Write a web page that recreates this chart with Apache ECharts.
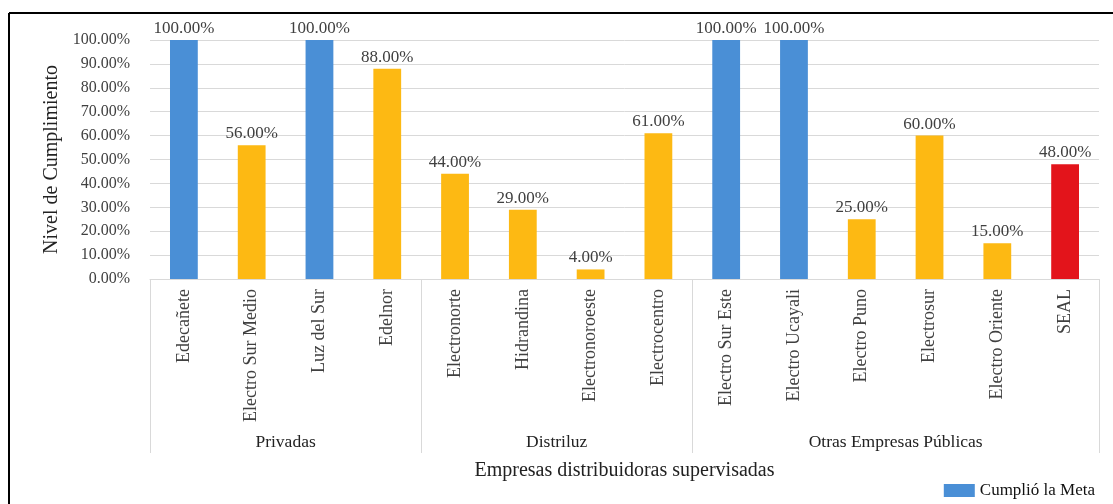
<!DOCTYPE html>
<html>
<head>
<meta charset="utf-8">
<script src="https://cdn.jsdelivr.net/npm/echarts@6/dist/echarts.min.js"></script>
<style>
html,body{margin:0;padding:0;background:#fff;}
#chart{width:1113px;height:504px;}
</style>
</head>
<body>
<div id="chart"></div>
<script>
const categories = ['Edecañete','Electro Sur Medio','Luz del Sur','Edelnor',
  'Electronorte','Hidrandina','Electronoroeste','Electrocentro',
  'Electro Sur Este','Electro Ucayali','Electro Puno','Electrosur','Electro Oriente','SEAL'];
const values = [100,56,100,88,44,29,4,61,100,100,25,60,15,48];
const status = ['met','unmet','met','unmet','unmet','unmet','unmet','unmet','met','met','unmet','unmet','unmet','other'];
const groups = ['Privadas','Distriluz','Otras Empresas Públicas'];
const groupSizes = [4,4,6];
const yTicks = [0,10,20,30,40,50,60,70,80,90,100];
const legendName = 'Cumplió la Meta';

const colorMap = {met:'#4A8FD6', unmet:'#FDB913', other:'#E3141B'};
const boundaries = [0];
groupSizes.forEach(s => boundaries.push(boundaries[boundaries.length-1]+s));
const groupCenters = groups.map((g,i) => (boundaries[i]+boundaries[i+1])/2);

const FONT = 'Liberation Serif';
const chart = echarts.init(document.getElementById('chart'));
chart.setOption({
  backgroundColor:'#fff',
  animation:false,
  textStyle:{fontFamily:FONT},
  graphic:[
    {type:'line', shape:{x1:9,y1:13,x2:1113,y2:13}, style:{stroke:'#000',lineWidth:2}},
    {type:'line', shape:{x1:9,y1:13,x2:9,y2:504}, style:{stroke:'#000',lineWidth:2}}
  ],
  legend:{
    data:[legendName], right:13, bottom:0, icon:'rect', itemWidth:31, itemHeight:13, itemGap:5,
    textStyle:{fontFamily:FONT,fontSize:17,color:'#111'}
  },
  grid:{left:150,right:14,top:40,bottom:225},
  xAxis:[{
    type:'category', data:categories, position:'bottom',
    axisLine:{show:true,lineStyle:{color:'#d9d9d9',width:1}},
    axisTick:{show:false},
    axisLabel:{rotate:90,margin:10,fontFamily:FONT,fontSize:18,color:'#404040'},
    name:'Empresas distribuidoras supervisadas', nameLocation:'middle', nameGap:182,
    nameTextStyle:{fontFamily:FONT,fontSize:20,color:'#222'}
  },{
    type:'value', min:0, max:categories.length, position:'bottom', offset:0,
    axisLine:{show:false}, splitLine:{show:false},
    axisTick:{show:true, customValues:boundaries, length:174, lineStyle:{color:'#d9d9d9',width:1}},
    axisLabel:{customValues:groupCenters, margin:154, fontFamily:FONT, fontSize:17.5, color:'#222',
      formatter:function(v){ const i = groupCenters.indexOf(v); return i>=0 ? groups[i] : ''; }}
  }],
  yAxis:{
    type:'value', min:0, max:100, interval:10,
    axisLine:{show:false}, axisTick:{show:false},
    splitLine:{lineStyle:{color:'#d9d9d9',width:1}},
    axisLabel:{margin:20,fontFamily:FONT,fontSize:16,color:'#404040',
      customValues:yTicks,
      formatter:function(v){return v.toFixed(2)+'%';}},
    name:'Nivel de Cumplimiento', nameLocation:'middle', nameGap:88,
    nameTextStyle:{fontFamily:FONT,fontSize:20,color:'#222'}
  },
  series:[{
    name:legendName, type:'bar', xAxisIndex:0, barWidth:'41%',
    itemStyle:{color:colorMap.met},
    data: values.map((v,i)=>({value:v,itemStyle:{color:colorMap[status[i]]}})),
    label:{show:true,position:'top',distance:3,fontFamily:FONT,fontSize:17,color:'#404040',
      formatter:function(p){return p.value.toFixed(2)+'%';}}
  }]
});
</script>
</body>
</html>
